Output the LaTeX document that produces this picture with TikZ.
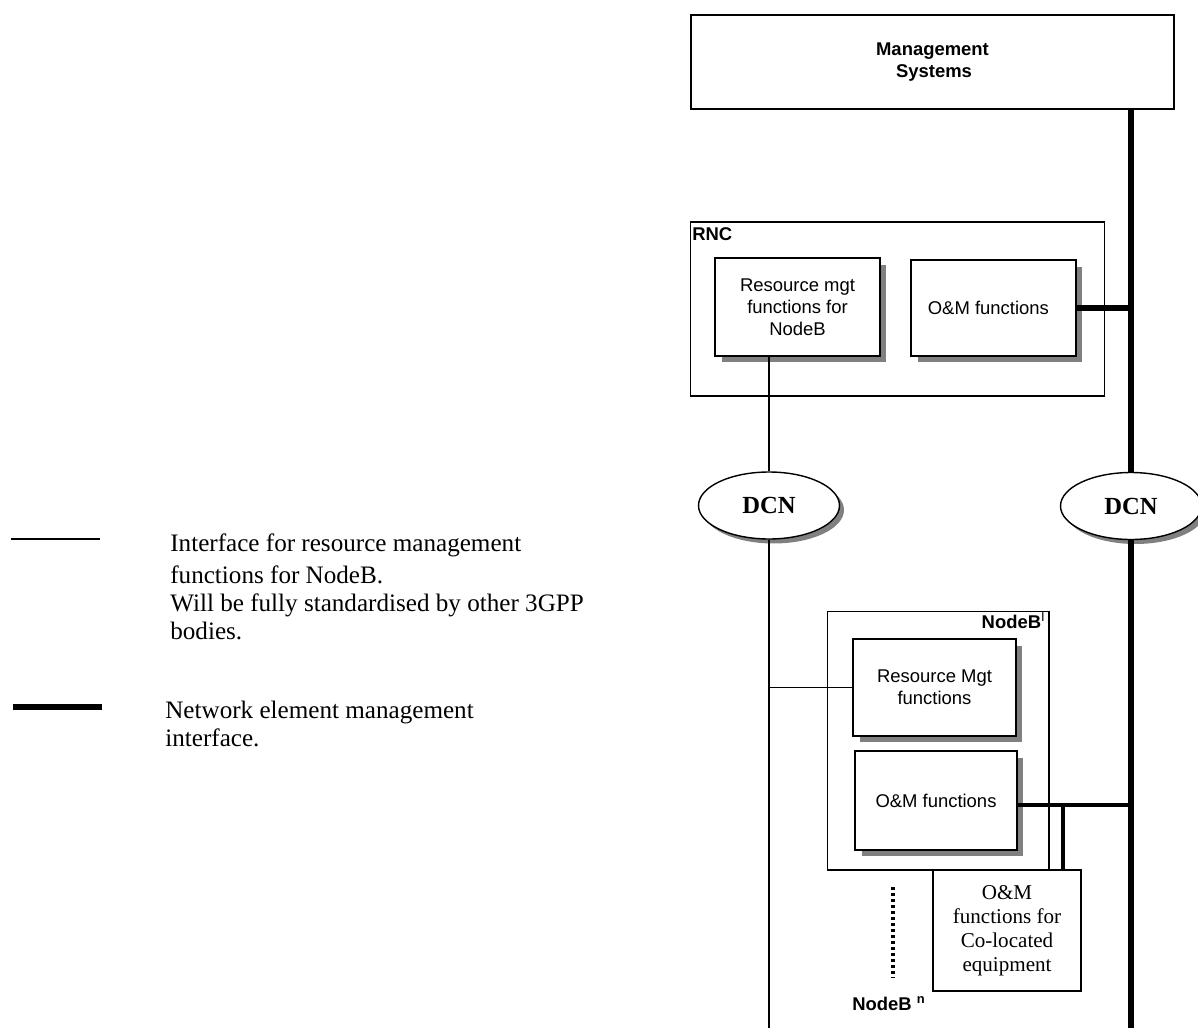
\documentclass[tikz,border=0pt]{standalone}
\usepackage{fontspec}
\setmainfont{Liberation Serif}
\setsansfont{Liberation Sans}
\usetikzlibrary{shapes.geometric}

\begin{document}
\begin{tikzpicture}[x=0.02cm,y=-0.02cm,
  box/.style={draw,line width=0.8pt,fill=white,inner sep=0pt,align=center,
    font=\sffamily\fontsize{10.5}{12.5}\selectfont},
  shbox/.style={box,preaction={fill=black!50,draw=none,transform canvas={shift={(0.13cm,-0.13cm)}}}},
  frame/.style={draw,line width=0.6pt,inner sep=0pt},
  dcn/.style={ellipse,draw,line width=0.8pt,fill=white,inner sep=0pt,
    minimum width=2.82cm,minimum height=1.34cm,font=\bfseries\fontsize{14}{16}\selectfont,
    preaction={fill=black!50,draw=none,transform canvas={shift={(0.09cm,-0.09cm)}}}},
  rmi/.style={line width=0.6pt},
  nem/.style={line width=3pt}]
\useasboundingbox (0,0) rectangle (1198,1028);

% management systems and the two DCN clouds
\node[box,font=\sffamily\bfseries\fontsize{10.5}{12.5}\selectfont,minimum width=9.66cm,minimum height=1.88cm] (mgmt) at (932.5,62) {Management\\ \,Systems};
\node[dcn] (dcnL) at (769,505.5) {DCN};
\node[dcn] (dcnR) at (1131,506) {DCN};

% RNC
\node[frame,minimum width=8.3cm,minimum height=3.48cm] (rnc) at (897.5,309) {};
\node[anchor=north west,inner sep=0pt,font=\sffamily\bfseries\fontsize{10.5}{12.5}\selectfont] (rnclbl) at (692,227) {RNC};
\node[shbox,minimum width=3.3cm,minimum height=1.96cm] (rmf) at (797.5,307) {Resource mgt\\functions for\\NodeB};
\node[shbox,minimum width=3.3cm,minimum height=1.92cm] (rom) at (993.5,308) {O\&M functions~~};

% NodeB
\node[frame,minimum width=4.44cm,minimum height=5.18cm] (nodeb) at (938,740.5) {};
\node[anchor=north east,inner sep=0pt,font=\sffamily\fontsize{10.5}{12.5}\selectfont] (nblbl) at (1046,612) {\textbf{NodeB}\textsuperscript{I}};
\node[shbox,minimum width=3.26cm,minimum height=1.94cm] (nrm) at (934.5,687.5) {Resource Mgt\\functions};
\node[shbox,minimum width=3.24cm,minimum height=1.98cm] (nom) at (936,800.5) {O\&M functions};
\node[box,line width=0.6pt,font=\fontsize{12}{13.6}\selectfont,minimum width=2.96cm,minimum height=2.42cm] (colo) at (1007,930.5) {O\&M\\functions for\\Co-located\\equipment};
\node[inner sep=0pt,font=\sffamily\bfseries\fontsize{10.5}{12.5}\selectfont] (nbn) at (889,1004) {NodeB \textsuperscript{n}};
\coordinate (dtop) at (893,887);
\coordinate (dbot) at (893,977);
\draw[line width=1.8pt,dash pattern=on 1.8pt off 1.6pt] (dtop) -- (dbot);

% interface for resource management of NodeB
\coordinate (lend) at (769,1028);
\draw[rmi] (dcnL |- rmf.south) -- (dcnL.north);
\draw[rmi] (dcnL.south) -- (lend);
\draw[rmi] (nrm.west) -- (nrm.west -| dcnL);

% network element management interface
\coordinate (rend) at (1131,1028);
\coordinate (tap) at (1063,805);
\draw[nem] (dcnR |- mgmt.south) -- (dcnR.north);
\draw[nem] (dcnR.south) -- (rend);
\draw[nem] (rom.east) -- (rom.east -| dcnR);
\draw[line width=2.4pt] (nom.east |- tap) -- (tap -| dcnR);
\draw[line width=2.8pt] (tap) -- (tap |- colo.north);

% legend
\coordinate (la) at (11,539);
\coordinate (lb) at (100,539);
\coordinate (lc) at (13,707);
\coordinate (ld) at (102,707);
\draw[line width=1pt] (la) -- (lb);
\draw[line width=3.8pt] (lc) -- (ld);
\node[anchor=base west,inner sep=0pt,align=left,font=\fontsize{14.3}{15.8}\selectfont] (txta) at (170,639)
  {Interface for resource management\\[2.5pt]functions for NodeB.\\Will be fully standardised by other 3GPP\\bodies.};
\node[anchor=base west,inner sep=0pt,align=left,font=\fontsize{14.3}{15.8}\selectfont] (txtb) at (165,746)
  {Network element management\\interface.};
\end{tikzpicture}
\end{document}
